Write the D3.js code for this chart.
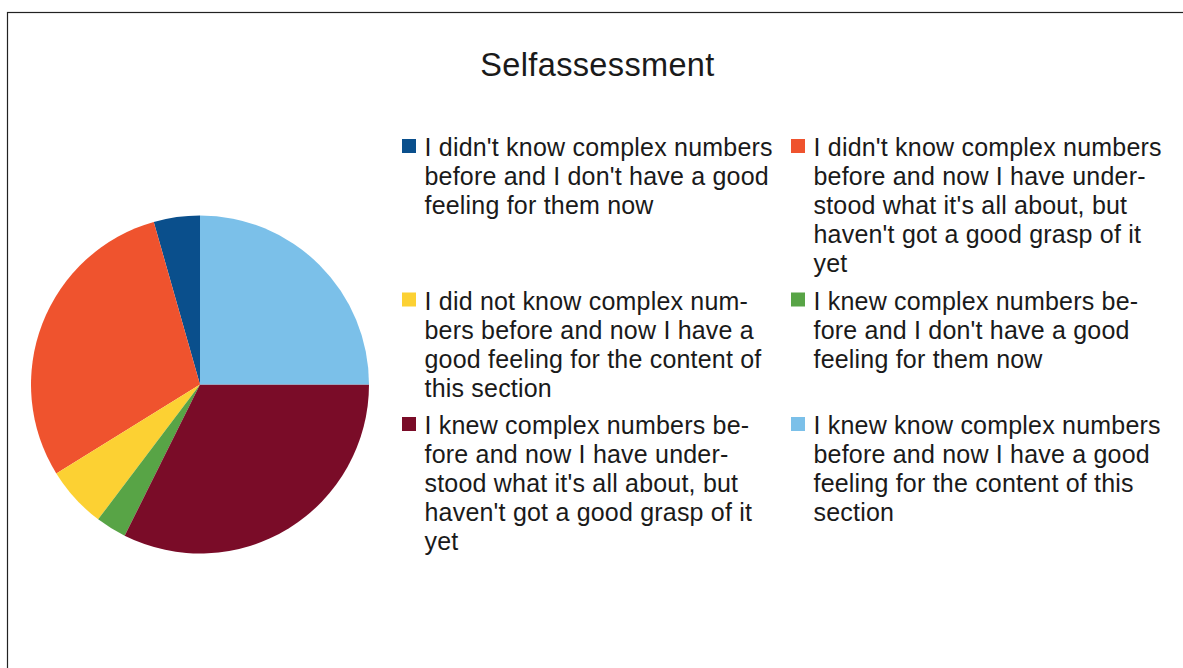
<!DOCTYPE html>
<html>
<head>
<meta charset="utf-8">
<script src="https://cdn.jsdelivr.net/npm/d3@7"></script>
<style>
  html, body { margin: 0; padding: 0; background: #fff; }
  svg { display: block; font-family: "Liberation Sans", Arial, sans-serif; }
</style>
</head>
<body>
<svg id="chart" width="1183" height="668"></svg>
<script>
// Survey answers (counts per response)
const categories = [
  "I didn't know complex numbers before and I don't have a good feeling for them now",
  "I didn't know complex numbers before and now I have understood what it's all about, but haven't got a good grasp of it yet",
  "I did not know complex numbers before and now I have a good feeling for the content of this section",
  "I knew complex numbers before and I don't have a good feeling for them now",
  "I knew complex numbers before and now I have understood what it's all about, but haven't got a good grasp of it yet",
  "I knew know complex numbers before and now I have a good feeling for the content of this section"
];
const counts = [3, 20, 4, 2, 22, 17];
const colors = ["#0a4f8c", "#ef532e", "#fcd133", "#58a446", "#7a0c28", "#7bc0e9"];

// Legend labels as they wrap in the legend box
const legendLines = [
  ["I didn't know complex numbers", "before and I don't have a good", "feeling for them now"],
  ["I didn't know complex numbers", "before and now I have under-", "stood what it's all about, but", "haven't got a good grasp of it", "yet"],
  ["I did not know complex num-", "bers before and now I have a", "good feeling for the content of", "this section"],
  ["I knew complex numbers be-", "fore and I don't have a good", "feeling for them now"],
  ["I knew complex numbers be-", "fore and now I have under-", "stood what it's all about, but", "haven't got a good grasp of it", "yet"],
  ["I knew know complex numbers", "before and now I have a good", "feeling for the content of this", "section"]
];
const title = "Selfassessment";

const svg = d3.select("#chart");

// Chart frame
svg.append("rect")
  .attr("x", 7.5).attr("y", 12.5)
  .attr("width", 1300).attr("height", 800)
  .attr("fill", "#fff")
  .attr("stroke", "#222").attr("stroke-width", 1.2);

svg.append("text")
  .attr("x", 597.5).attr("y", 76)
  .attr("text-anchor", "middle")
  .attr("font-size", 32.5)
  .attr("letter-spacing", 0.35)
  .attr("fill", "#1a1a1a")
  .text(title);

// Pie, starting at 12 o'clock and running counter-clockwise
const cx = 200, cy = 384.5, r = 169;
const pie = d3.pie().sort(null).value(d => d).startAngle(0).endAngle(-2 * Math.PI);
const arc = d3.arc().innerRadius(0).outerRadius(r);
const color = d3.scaleOrdinal().domain(d3.range(categories.length)).range(colors);

svg.append("g")
  .attr("transform", `translate(${cx},${cy})`)
  .selectAll("path")
  .data(pie(counts))
  .join("path")
  .attr("d", arc)
  .attr("fill", (d, i) => color(i));

// Legend: two columns, rows sized by the tallest entry
const fontSize = 25, lineH = 29, rowGap = 8.5;
const colX = [402, 791], textDX = 22.5;
const firstBase = 156;
const legend = svg.append("g");
let rowTop = firstBase;
for (let row = 0; row < 3; row++) {
  const items = [row * 2, row * 2 + 1];
  items.forEach((idx, c) => {
    const g = legend.append("g");
    g.append("rect")
      .attr("x", colX[c]).attr("y", rowTop - 17)
      .attr("width", 14).attr("height", 14)
      .attr("fill", color(idx));
    g.append("text")
      .attr("font-size", fontSize)
      .attr("letter-spacing", 0.2)
      .attr("fill", "#1a1a1a")
      .selectAll("tspan")
      .data(legendLines[idx])
      .join("tspan")
      .attr("x", colX[c] + textDX)
      .attr("y", (d, k) => rowTop + k * lineH)
      .text(d => d);
  });
  const maxLines = d3.max(items, i => legendLines[i].length);
  rowTop += maxLines * lineH + rowGap;
}
</script>
</body>
</html>
